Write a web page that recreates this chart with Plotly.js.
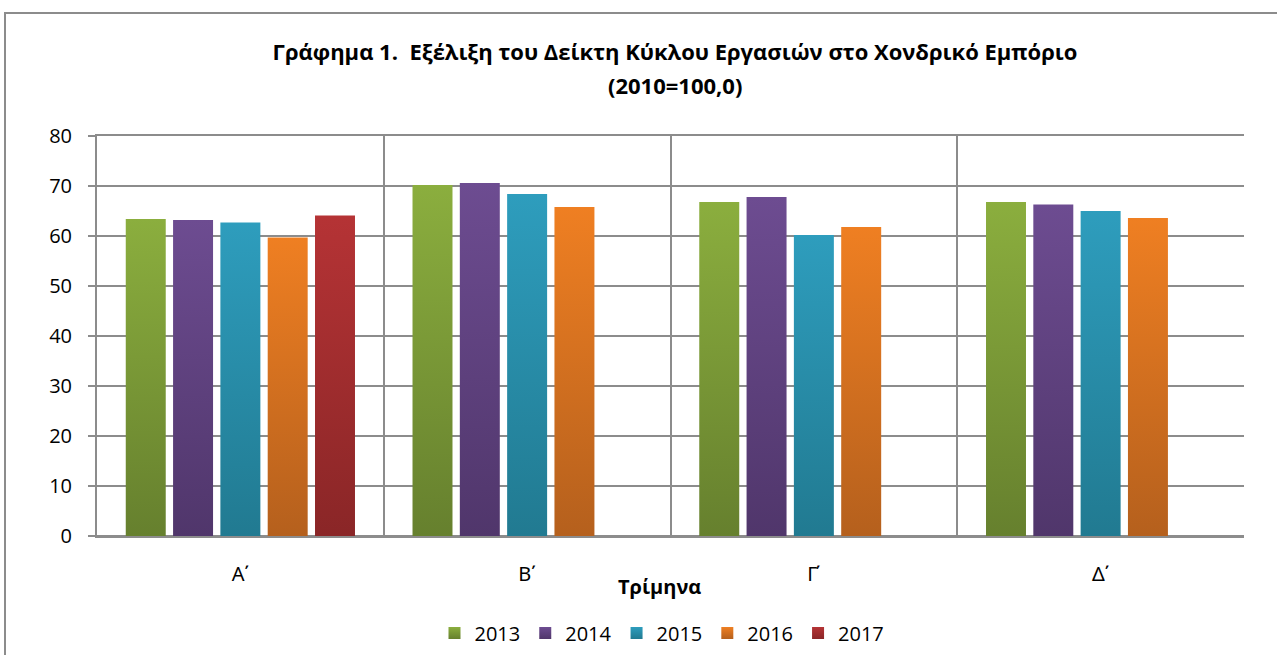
<!DOCTYPE html>
<html>
<head>
<meta charset="utf-8">
<script src="https://cdn.plot.ly/plotly-3.0.1.min.js"></script>
<style>
  html, body { margin: 0; padding: 0; background: #fff; overflow: hidden; }
  #wrap { position: relative; width: 1277px; height: 655px; overflow: hidden; }
  #chart { width: 1277px; height: 655px; }
  #frame { position: absolute; left: 4px; top: 12px; width: 1290px; height: 700px;
           border: 2px solid #8c8c8c; pointer-events: none; box-sizing: border-box; }
</style>
</head>
<body>
<div id="wrap">
  <div id="chart"></div>
  <div id="frame"></div>
</div>
<script>
// ---- data ----
const quarters = ["Α΄", "Β΄", "Γ΄", "Δ΄"];
const years = ["2013", "2014", "2015", "2016", "2017"];
const v2013 = [63.4, 70.2, 66.8, 66.8];
const v2014 = [63.2, 70.6, 67.8, 66.3];
const v2015 = [62.7, 68.4, 60.2, 65.0];
const v2016 = [59.7, 65.8, 61.8, 63.6];
const v2017 = [64.1, null, null, null];
const yTicks = [0, 10, 20, 30, 40, 50, 60, 70, 80];

const seriesValues = [v2013, v2014, v2015, v2016, v2017];
const topColors = ["#8bae3e", "#6d4c91", "#2e9dbd", "#ef7f22", "#b53335"];
const bottomColors = ["#66802e", "#50366b", "#217a91", "#b5601d", "#8a2627"];
const midColors = ["#7a9a37", "#5f427f", "#288ca8", "#d4701f", "#a02d2e"];

const FONT = "'Open Sans', sans-serif";
const XFONT = "'Noto Sans', 'DejaVu Sans', sans-serif";

const traces = years.map((y, i) => ({
  type: "bar",
  name: y,
  x: quarters,
  y: seriesValues[i],
  marker: { color: midColors[i], line: { width: 0 } },
  hoverinfo: "x+y+name"
}));

const L = 97, R = 1244, T = 136, B = 536, W = 1277, H = 655;

const layout = {
  width: W,
  height: H,
  paper_bgcolor: "#ffffff",
  plot_bgcolor: "#ffffff",
  margin: { l: L, r: W - R, t: T, b: H - B },
  barmode: "group",
  bargap: 0.175,
  bargroupgap: 0.155,
  font: { family: FONT, color: "#000000", size: 20 },
  title: {
    text: "<b>Γράφημα 1.  Εξέλιξη του Δείκτη Κύκλου Εργασιών στο Χονδρικό Εμπόριο</b>",
    font: { family: FONT, size: 22, color: "#000000" },
    x: 675 / W, xanchor: "center",
    y: 1 - 52 / H, yanchor: "middle", yref: "container"
  },
  annotations: [
    {
      text: "<b>(2010=100,0)</b>",
      xref: "paper", yref: "paper",
      x: (675 - L) / (R - L), y: (B - 85) / (B - T),
      xanchor: "center", yanchor: "middle",
      showarrow: false,
      font: { family: FONT, size: 22, color: "#000000" }
    },
    {
      text: "<b>Τρίμηνα</b>",
      xref: "paper", yref: "paper",
      x: (659 - L) / (R - L), y: (B - 586) / (B - T),
      xanchor: "center", yanchor: "middle",
      showarrow: false,
      font: { family: FONT, size: 20, color: "#000000" }
    }
  ],
  xaxis: {
    type: "category",
    tickson: "boundaries",
    showgrid: true,
    gridcolor: "#8c8c8c",
    gridwidth: 2,
    showline: true,
    mirror: true,
    linecolor: "#8c8c8c",
    linewidth: 2,
    ticks: "",
    ticklabelstandoff: 19,
    tickfont: { family: XFONT, size: 20, color: "#000000" },
    automargin: false
  },
  yaxis: {
    range: [0, 80],
    tickvals: yTicks,
    ticktext: yTicks.map(String),
    showgrid: true,
    gridcolor: "#8c8c8c",
    gridwidth: 2,
    zeroline: true,
    zerolinecolor: "#8c8c8c",
    zerolinewidth: 2,
    showline: true,
    linecolor: "#8c8c8c",
    linewidth: 2,
    ticks: "outside",
    ticklen: 7,
    tickwidth: 2,
    tickcolor: "#8c8c8c",
    ticklabelstandoff: 12,
    tickfont: { family: FONT, size: 20, color: "#000000" },
    automargin: false
  },
  showlegend: true,
  legend: {
    orientation: "h",
    xref: "container", yref: "container",
    x: 662 / W, xanchor: "center",
    y: 1 - 633 / H, yanchor: "middle",
    font: { family: FONT, size: 20, color: "#000000" },
    itemwidth: 30,
    traceorder: "normal",
    bgcolor: "rgba(0,0,0,0)"
  }
};

Plotly.newPlot("chart", traces, layout, { displayModeBar: false, staticPlot: true }).then(gd => {
  // vertical gradients (light top, dark bottom) as in the original
  const svgNS = "http://www.w3.org/2000/svg";
  const svg = gd.querySelector("svg.main-svg");
  let defs = svg.querySelector("defs");
  if (!defs) { defs = document.createElementNS(svgNS, "defs"); svg.insertBefore(defs, svg.firstChild); }
  years.forEach((y, i) => {
    const g = document.createElementNS(svgNS, "linearGradient");
    g.setAttribute("id", "barGrad" + i);
    g.setAttribute("x1", "0"); g.setAttribute("y1", "0");
    g.setAttribute("x2", "0"); g.setAttribute("y2", "1");
    const s1 = document.createElementNS(svgNS, "stop");
    s1.setAttribute("offset", "0"); s1.setAttribute("stop-color", topColors[i]);
    const s2 = document.createElementNS(svgNS, "stop");
    s2.setAttribute("offset", "1"); s2.setAttribute("stop-color", bottomColors[i]);
    g.appendChild(s1); g.appendChild(s2);
    defs.appendChild(g);
  });
  gd.querySelectorAll(".barlayer .trace.bars").forEach((tr, i) => {
    tr.querySelectorAll("path").forEach(p => { p.style.fill = "url(#barGrad" + i + ")"; });
  });
  gd.querySelectorAll(".legend .traces").forEach((tr, i) => {
    tr.querySelectorAll(".legendpoints path").forEach(p => {
      p.style.fill = "url(#barGrad" + i + ")";
    });
  });
});
</script>
</body>
</html>
